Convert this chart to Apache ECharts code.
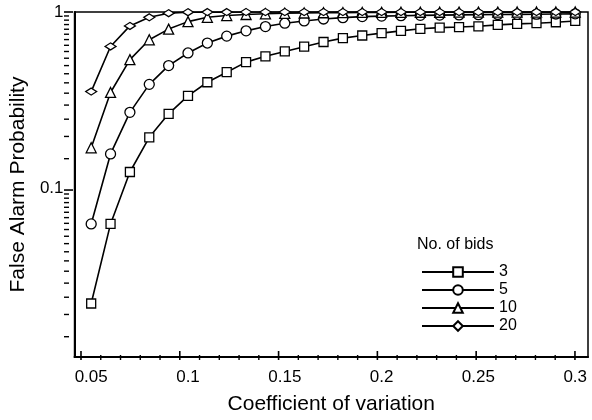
<!DOCTYPE html>
<html><head><meta charset="utf-8">
<script src="https://cdn.jsdelivr.net/npm/echarts@6/dist/echarts.min.js"></script>
<style>
html,body{margin:0;padding:0;background:#fff}
#c{position:absolute;left:0;top:0;width:592px;height:420px}
#t{position:absolute;left:0;top:0;width:592px;height:420px;pointer-events:none}
</style>
</head><body><div id="c"></div><div id="t"></div>
<script>
// ---- data ----
const cv = [0.05,0.06,0.07,0.08,0.09,0.10,0.11,0.12,0.13,0.14,0.15,0.16,0.17,0.18,0.19,0.20,0.21,0.22,0.23,0.24,0.25,0.26,0.27,0.28,0.29,0.30];
const bids3  = [0.0223,0.063,0.124,0.195,0.265,0.335,0.40,0.456,0.52,0.561,0.598,0.636,0.676,0.711,0.736,0.759,0.782,0.803,0.816,0.822,0.83,0.845,0.856,0.864,0.875,0.89];
const bids5  = [0.063,0.157,0.27,0.389,0.497,0.586,0.667,0.73,0.782,0.827,0.864,0.89,0.913,0.929,0.942,0.948,0.953,0.957,0.96,0.963,0.966,0.968,0.97,0.972,0.974,0.976];
const bids10 = [0.17,0.35,0.537,0.696,0.80,0.882,0.933,0.955,0.968,0.977,0.983,0.987,0.99,0.992,0.994,0.995,0.996,0.997,0.997,0.998,0.998,0.998,0.999,0.999,0.999,0.999];
const bids20 = [0.354,0.638,0.834,0.933,0.985,0.997,0.999,0.999,1,1,1,1,1,1,1,1,1,1,1,1,1,1,1,1,1,1];
const seriesNames = ['3','5','10','20'];
const xMajorTicks = [0.05,0.1,0.15,0.2,0.25,0.3];
const xMinorTicks = [0.06,0.07,0.08,0.09,0.11,0.12,0.13,0.14,0.16,0.17,0.18,0.19,0.21,0.22,0.23,0.24,0.26,0.27,0.28,0.29];
const yMajorTicks = [0.1,1];
const yMinorTicks = [0.015,0.02,0.025,0.03,0.035,0.04,0.045,0.05,0.055,0.06,0.065,0.07,0.075,0.08,0.085,0.09,0.095,
                     0.15,0.2,0.25,0.3,0.35,0.4,0.45,0.5,0.55,0.6,0.65,0.7,0.75,0.8,0.85,0.9,0.95];
const xTitle = 'Coefficient of variation';
const yTitle = 'False Alarm Probability';
const legendTitle = 'No. of bids';

// ---- chart ----
const FONT = 'Liberation Sans, Arial, Helvetica, sans-serif';
const X_MIN = 0.0414, X_MAX = 0.3066, Y_MIN = 0.0111, Y_MAX = 1;
const GRID = {left:64, right:4, top:12, bottom:60};
const symbols = ['rect','circle','triangle','diamond'];
const symbolSizes = [9,10,10,[11,7]];
const allSeries = [bids3,bids5,bids10,bids20];

const chart = echarts.init(document.getElementById('c'), null, {renderer:'canvas'});
try {
chart.setOption({
  animation:false,
  backgroundColor:'#fff',
  title:{text:legendTitle, left:417, top:237, padding:0,
    textStyle:{fontSize:16, fontWeight:'normal', color:'#000', fontFamily:FONT}},
  legend:{orient:'vertical', left:421, top:264, itemWidth:72, itemHeight:12, itemGap:2,
    selectedMode:false, padding:0, data:seriesNames,
    textStyle:{fontSize:16, color:'#000', fontFamily:FONT}},
  grid:Object.assign({show:true, borderColor:'#000', borderWidth:1.5, containLabel:false}, GRID),
  xAxis:{type:'value', min:X_MIN, max:X_MAX, position:'bottom',
     name:xTitle, nameLocation:'middle', nameGap:37,
     nameTextStyle:{fontSize:21, color:'#000', fontFamily:FONT},
     axisLine:{show:true, lineStyle:{color:'#000', width:2}},
     axisTick:{show:false},
     axisLabel:{show:true, customValues:xMajorTicks, fontSize:17, color:'#000', fontFamily:FONT, margin:12, formatter:v=>String(v)},
     splitLine:{show:false}},
  yAxis:{type:'log', logBase:10, min:Y_MIN, max:Y_MAX, position:'left',
     name:yTitle, nameLocation:'middle', nameGap:34, nameRotate:90,
     nameTextStyle:{fontSize:21, color:'#000', fontFamily:FONT},
     axisLine:{show:true, lineStyle:{color:'#000', width:2}},
     axisTick:{show:false},
     axisLabel:{show:true, customValues:yMajorTicks, fontSize:17, color:'#000', fontFamily:FONT, margin:11, formatter:v=>String(v)},
     splitLine:{show:false}, minorTick:{show:false}},
  series: allSeries.map((vals,i)=>({
    name:seriesNames[i], type:'line',
    data: cv.map((x,j)=>[x, vals[j]]),
    symbol:symbols[i], symbolSize:symbolSizes[i], showAllSymbol:true,
    color:'#000',
    lineStyle:{color:'#000', width:1.6},
    itemStyle:{color:'#fff', borderColor:'#000', borderWidth:1.3},
    z:2+i
  }))
});
} catch(e) { console.error(e); }

// ---- inward tick marks: transparent overlay chart with identical grid and scales ----
const tchart = echarts.init(document.getElementById('t'), null, {renderer:'canvas'});
tchart.setOption({
  animation:false,
  grid:Object.assign({}, GRID),
  xAxis:{type:'value', min:X_MIN, max:X_MAX, axisLine:{show:false}, axisTick:{show:false}, axisLabel:{show:false}, splitLine:{show:false}},
  yAxis:{type:'log', logBase:10, min:Y_MIN, max:Y_MAX, axisLine:{show:false}, axisTick:{show:false}, axisLabel:{show:false}, splitLine:{show:false}},
  series:[{type:'line', data:[], silent:true}]
});
const els = [];
const yBottom = tchart.convertToPixel({yAxisIndex:0}, Y_MIN);
const xLeft = tchart.convertToPixel({xAxisIndex:0}, X_MIN);
function xTick(v, len, w){
  const x = tchart.convertToPixel({xAxisIndex:0}, v);
  els.push({type:'line', shape:{x1:x, y1:yBottom, x2:x, y2:yBottom-len}, style:{stroke:'#000', lineWidth:w}});
}
function yTick(v, len, w){
  const y = tchart.convertToPixel({yAxisIndex:0}, v);
  els.push({type:'line', shape:{x1:xLeft, y1:y, x2:xLeft+len, y2:y}, style:{stroke:'#000', lineWidth:w}});
}
xMajorTicks.forEach(v=>xTick(v, 9, 1.6));
xMinorTicks.forEach(v=>xTick(v, 5, 1.4));
yMajorTicks.forEach(v=>yTick(v, 9, 1.6));
yMinorTicks.forEach(v=>yTick(v, 5, 1.4));
tchart.setOption({graphic:{elements:els}});
</script></body></html>
